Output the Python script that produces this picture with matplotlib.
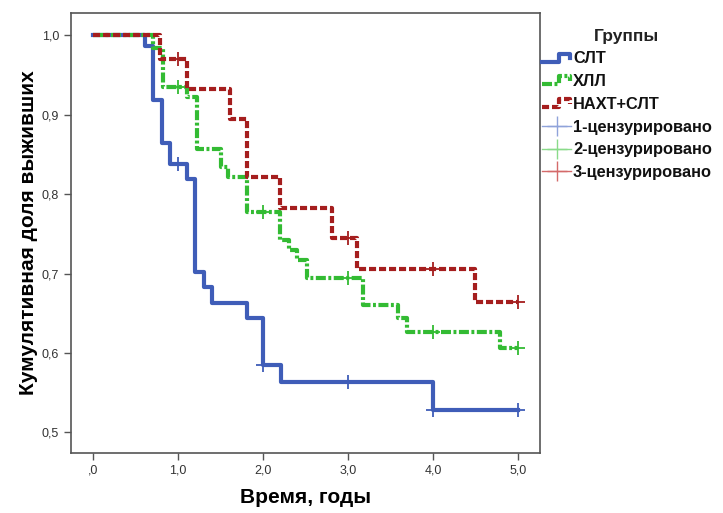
import numpy as np
import matplotlib
matplotlib.use("Agg")
import matplotlib.pyplot as plt
from matplotlib.lines import Line2D
from matplotlib.legend_handler import HandlerBase

plt.rcParams['font.family'] = ['Liberation Sans', 'DejaVu Sans']

# Kaplan-Meier steps (time in years, cumulative survival)
slt_t = [0, 0.61, 0.70, 0.81, 0.90, 1.10, 1.20, 1.30, 1.40, 1.81, 2.00, 2.21, 4.00, 5.00]
slt_s = [1.0, 0.987, 0.918, 0.864, 0.838, 0.819, 0.702, 0.683, 0.663, 0.644, 0.585, 0.564, 0.528, 0.528]
slt_cens_t = [1.0, 2.0, 3.0, 4.0, 5.0]

hll_t = [0, 0.70, 0.82, 1.10, 1.22, 1.50, 1.59, 1.81, 2.20, 2.30, 2.40, 2.52, 3.18, 3.59, 3.69, 4.79, 5.00]
hll_s = [1.0, 0.984, 0.935, 0.922, 0.857, 0.834, 0.821, 0.777, 0.742, 0.730, 0.717, 0.694, 0.660, 0.644, 0.626, 0.606, 0.606]
hll_cens_t = [1.0, 2.0, 3.0, 4.0, 5.0]

naht_t = [0, 0.79, 1.10, 1.61, 1.81, 2.20, 2.81, 3.11, 4.50, 5.00]
naht_s = [1.0, 0.970, 0.932, 0.894, 0.821, 0.782, 0.745, 0.706, 0.664, 0.664]
naht_cens_t = [1.0, 3.0, 4.0, 5.0]

groups = ["СЛТ", "ХЛЛ", "НАХТ+СЛТ"]
cens_labels = ["1-цензурировано", "2-цензурировано", "3-цензурировано"]
colors = ["#3F5DB8", "#33BB33", "#A51E1E"]
cens_colors = ["#8FA3DA", "#8ADB8A", "#D46A6A"]
xticks = [0, 1, 2, 3, 4, 5]
yticks = [0.5, 0.6, 0.7, 0.8, 0.9, 1.0]


def surv_at(ts, ss, t):
    # value of step function at time t (right-continuous)
    idx = np.searchsorted(ts, t, side='right') - 1
    return ss[idx]


class StepHandler(HandlerBase):
    # little step-shaped legend key like in SPSS
    def __init__(self, color, style):
        super().__init__()
        self.color = color
        self.style = style

    def create_artists(self, legend, orig, xdescent, ydescent, width, height, fontsize, trans):
        xs = np.array([0, 0.6, 0.6, 0.95, 0.95]) * width - xdescent
        ys = np.array([0.15, 0.15, 0.85, 0.85, 0.45]) * height - ydescent
        line = Line2D(xs, ys, color=self.color, **self.style)
        line.set_transform(trans)
        return [line]


fig = plt.figure(figsize=(7.23, 5.13), dpi=100)
ax = fig.add_axes([71 / 723, 1 - 453 / 513, (540 - 71) / 723, (453 - 13) / 513])

styles = [
    dict(ls='-', lw=3.0),
    dict(ls=(0, (2.4, 0.6, 0.7, 0.6)), lw=3.0),
    dict(ls=(0, (1.7, 0.7)), lw=3.0),
]
data = [(slt_t, slt_s, slt_cens_t), (hll_t, hll_s, hll_cens_t), (naht_t, naht_s, naht_cens_t)]

handles = []
for (ts, ss, ct), col, st, name in zip(data, colors, styles, groups):
    ln, = ax.step(ts, ss, where='post', color=col, label=name, **st)
    handles.append(ln)
for (ts, ss, ct), col in zip(data, colors):
    cy = [surv_at(ts, ss, t) for t in ct]
    ax.plot(ct, cy, ls='none', marker='+', ms=10, mew=1.3, color=col)

cens_handles = []
for col, lab in zip(cens_colors, cens_labels):
    cens_handles.append(Line2D([], [], color=col, lw=1.0, marker='+', ms=14, mew=1.0, label=lab))

ax.set_xlim(-0.26, 5.26)
ax.set_ylim(0.474, 1.028)
ax.set_xticks(xticks)
ax.set_yticks(yticks)
ax.set_xticklabels([(f"{v:.1f}".replace('.', ',') if v != 0 else ",0") for v in xticks])
ax.set_yticklabels([f"{v:.1f}".replace('.', ',') for v in yticks])
ax.tick_params(direction='out', length=5, width=1, colors='#555555', labelcolor='#333333', labelsize=9)
for sp in ax.spines.values():
    sp.set_color('#555555')
    sp.set_linewidth(1.2)

ax.set_xlabel("Время, годы", fontsize=15, fontweight='bold', labelpad=8)
ax.set_ylabel("Кумулятивная доля выживших", fontsize=15, fontweight='bold', labelpad=3)

handler_map = {h: StepHandler(c, s) for h, c, s in zip(handles, colors, styles)}
leg = fig.legend(handles + cens_handles, groups + cens_labels, loc='upper left',
                 bbox_to_anchor=(527 / 723, 1 - 14 / 513), frameon=False,
                 handlelength=1.8, handletextpad=0.1, labelspacing=0.47,
                 handler_map=handler_map, title="Группы",
                 prop={'size': 11.8, 'weight': 'bold'},
                 title_fontproperties={'size': 12.5, 'weight': 'bold'})
leg.get_title().set_color('#222222')
for t in leg.get_texts():
    t.set_color('#111111')

fig.savefig("out.png", dpi=100)
